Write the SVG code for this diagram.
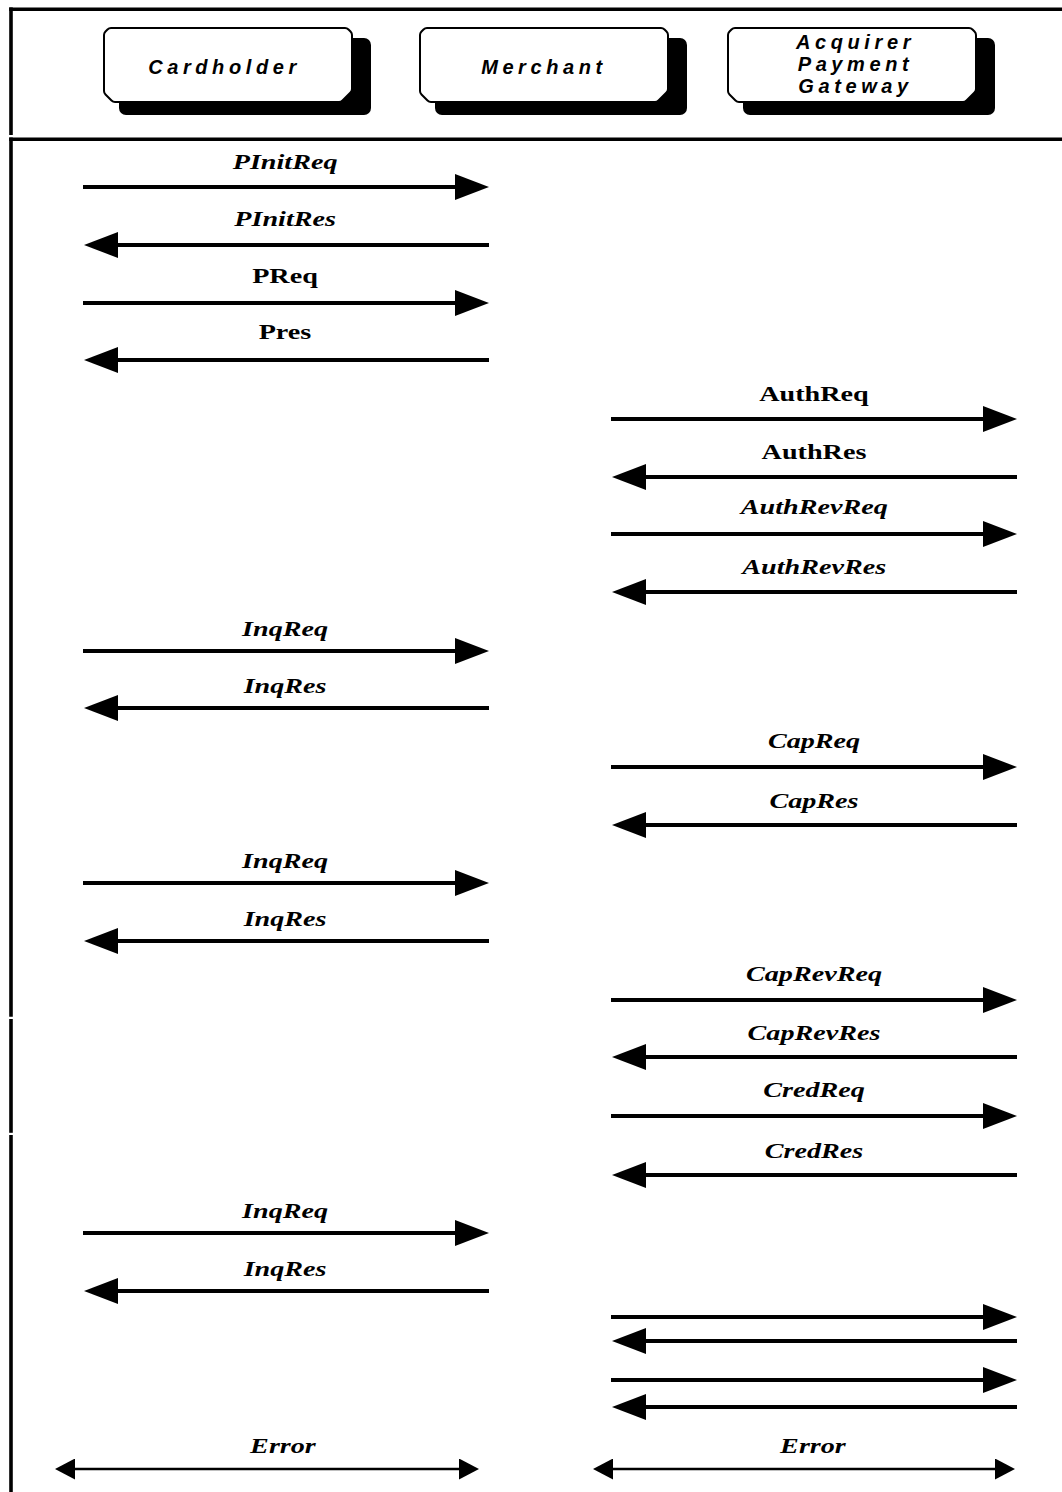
<svg xmlns="http://www.w3.org/2000/svg" xmlns:xlink="http://www.w3.org/1999/xlink" width="1062" height="1492" viewBox="0 0 1062 1492">
  <style>
    .frame { stroke: #000; stroke-width: 3.6; fill: none; }
    .msg { stroke: #000; stroke-width: 4; fill: none; marker-end: url(#head); }
    .err { stroke: #000; stroke-width: 2.5; fill: none; marker-start: url(#errhead); marker-end: url(#errhead); }
    .party { font-family: "Liberation Sans", Arial, sans-serif; font-weight: bold; font-style: italic; font-size: 20px; letter-spacing: 4.6px; text-anchor: middle; fill: #000; }
    .lbl { font-family: "Liberation Serif", "Times New Roman", serif; font-weight: bold; font-style: italic; font-size: 22px; text-anchor: middle; fill: #000;
           transform-box: fill-box; transform-origin: center; transform: scaleX(1.28); }
    .up { font-style: normal; }
  </style>
  <defs>
    <marker id="head" markerUnits="userSpaceOnUse" markerWidth="34" markerHeight="26" viewBox="0 0 34 26" refX="1" refY="13" orient="auto">
      <path d="M0,0 L34,13 L0,26 Z" fill="#000"/>
    </marker>
    <marker id="errhead" markerUnits="userSpaceOnUse" markerWidth="20" markerHeight="21" viewBox="0 0 20 21" refX="1" refY="10.5" orient="auto-start-reverse">
      <path d="M0,0 L20,10.5 L0,21 Z" fill="#000"/>
    </marker>
    <rect id="shadow" x="15" y="10" width="252" height="77" rx="7" fill="#000"/>
    <path id="box" d="M0,7 Q0,5 1.5,3.5 L3.5,1.5 Q5,0 7,0 L241,0 Q243,0 244.5,1.5 L246.5,3.5 Q248,5 248,7 L248,61 Q248,63 246.5,64.5 L238.5,72.5 Q237,74 235,74 L11,74 Q9,74 7.5,72.5 L1.5,66.5 Q0,65 0,63 Z" fill="#fff" stroke="#000" stroke-width="2"/>
  </defs>

  <rect width="1062" height="1492" fill="#fff"/>

  <!-- outer frame: header band and body -->
  <g id="frame">
    <line class="frame" x1="9.2" y1="9.2" x2="1062" y2="9.2"/>
    <line class="frame" x1="11" y1="7.4" x2="11" y2="135"/>
    <line class="frame" x1="9.2" y1="139.2" x2="1062" y2="139.2"/>
    <line class="frame" x1="11" y1="137.4" x2="11" y2="1016.8"/>
    <line class="frame" x1="11" y1="1019" x2="11" y2="1132.8"/>
    <line class="frame" x1="11" y1="1135" x2="11" y2="1492"/>
  </g>

  <!-- parties -->
  <g id="cardholder" transform="translate(104 28)">
    <use href="#shadow"/>
    <use href="#box"/>
    <text class="party" x="120.5" y="45.5">Cardholder</text>
  </g>
  <g id="merchant" transform="translate(420 28)">
    <use href="#shadow"/>
    <use href="#box"/>
    <text class="party" x="124" y="45.5">Merchant</text>
  </g>
  <g id="gateway" transform="translate(728 28)">
    <use href="#shadow"/>
    <use href="#box"/>
    <text class="party" x="127.5" y="21">Acquirer</text>
    <text class="party" x="127.5" y="43">Payment</text>
    <text class="party" x="127.5" y="65">Gateway</text>
  </g>

  <!-- message arrows -->
  <g id="connectors">
    <!-- cardholder / merchant lane -->
    <line class="msg" x1="83" y1="187" x2="456" y2="187"/>
    <line class="msg" x1="489" y1="245" x2="117" y2="245"/>
    <line class="msg" x1="83" y1="303" x2="456" y2="303"/>
    <line class="msg" x1="489" y1="360" x2="117" y2="360"/>
    <!-- merchant / gateway lane -->
    <line class="msg" x1="611" y1="419" x2="984" y2="419"/>
    <line class="msg" x1="1017" y1="477" x2="645" y2="477"/>
    <line class="msg" x1="611" y1="534" x2="984" y2="534"/>
    <line class="msg" x1="1017" y1="592" x2="645" y2="592"/>

    <line class="msg" x1="83" y1="651" x2="456" y2="651"/>
    <line class="msg" x1="489" y1="708" x2="117" y2="708"/>

    <line class="msg" x1="611" y1="767" x2="984" y2="767"/>
    <line class="msg" x1="1017" y1="825" x2="645" y2="825"/>

    <line class="msg" x1="83" y1="883" x2="456" y2="883"/>
    <line class="msg" x1="489" y1="941" x2="117" y2="941"/>

    <line class="msg" x1="611" y1="1000" x2="984" y2="1000"/>
    <line class="msg" x1="1017" y1="1057" x2="645" y2="1057"/>
    <line class="msg" x1="611" y1="1116" x2="984" y2="1116"/>
    <line class="msg" x1="1017" y1="1175" x2="645" y2="1175"/>

    <line class="msg" x1="83" y1="1233" x2="456" y2="1233"/>
    <line class="msg" x1="489" y1="1291" x2="117" y2="1291"/>

    <line class="msg" x1="611" y1="1317" x2="984" y2="1317"/>
    <line class="msg" x1="1017" y1="1341" x2="645" y2="1341"/>
    <line class="msg" x1="611" y1="1380" x2="984" y2="1380"/>
    <line class="msg" x1="1017" y1="1407" x2="645" y2="1407"/>

    <!-- error exchanges -->
    <line class="err" x1="74" y1="1469" x2="460" y2="1469"/>
    <line class="err" x1="612" y1="1469" x2="996" y2="1469"/>
  </g>

  <!-- message labels -->
  <g id="labels">
    <text class="lbl" x="285" y="169">PInitReq</text>
    <text class="lbl" x="285" y="226">PInitRes</text>
    <text class="lbl up" x="285" y="283">PReq</text>
    <text class="lbl up" x="285" y="339">Pres</text>
    <text class="lbl up" x="814" y="401.5">AuthReq</text>
    <text class="lbl up" x="814" y="459">AuthRes</text>
    <text class="lbl" x="814" y="514">AuthRevReq</text>
    <text class="lbl" x="814" y="574">AuthRevRes</text>
    <text class="lbl" x="285" y="636">InqReq</text>
    <text class="lbl" x="285" y="693">InqRes</text>
    <text class="lbl" x="814" y="748">CapReq</text>
    <text class="lbl" x="814" y="808">CapRes</text>
    <text class="lbl" x="285" y="868">InqReq</text>
    <text class="lbl" x="285" y="926">InqRes</text>
    <text class="lbl" x="814" y="981">CapRevReq</text>
    <text class="lbl" x="814" y="1040">CapRevRes</text>
    <text class="lbl" x="814" y="1097">CredReq</text>
    <text class="lbl" x="814" y="1158">CredRes</text>
    <text class="lbl" x="285" y="1218">InqReq</text>
    <text class="lbl" x="285" y="1276">InqRes</text>
    <text class="lbl" x="283" y="1453">Error</text>
    <text class="lbl" x="813" y="1453">Error</text>
  </g>
</svg>
